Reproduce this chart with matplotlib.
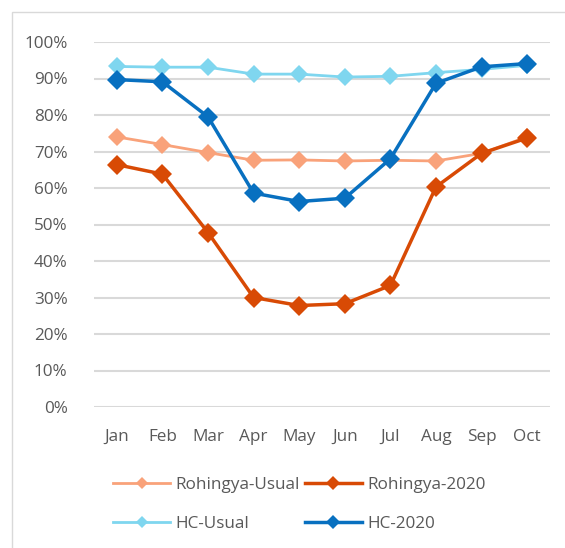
import matplotlib
matplotlib.use("Agg")
import matplotlib.pyplot as plt
from matplotlib.patches import Rectangle
from matplotlib.ticker import PercentFormatter

# values (percent)
months = ["Jan", "Feb", "Mar", "Apr", "May", "Jun", "Jul", "Aug", "Sep", "Oct"]
rohingya_usual = [74.0, 71.9, 69.7, 67.6, 67.7, 67.4, 67.6, 67.4, 69.5, 74.0]
rohingya_2020 = [66.4, 63.8, 47.8, 30.0, 27.8, 28.3, 33.3, 60.3, 69.5, 73.7]
hc_usual = [93.3, 93.1, 93.1, 91.2, 91.2, 90.4, 90.6, 91.6, 92.5, 93.6]
hc_2020 = [89.7, 89.1, 79.5, 58.6, 56.3, 57.2, 68.0, 88.7, 93.2, 94.1]

series = [
    ("Rohingya-Usual", rohingya_usual, "#F9A27A", 2.0, 9.0),
    ("Rohingya-2020", rohingya_2020, "#D84A05", 2.5, 10.0),
    ("HC-Usual", hc_usual, "#7FD6EF", 2.0, 9.0),
    ("HC-2020", hc_2020, "#0870C0", 2.5, 10.0),
]

plt.rcParams["font.family"] = ["Open Sans", "DejaVu Sans"]
text_color = "#595959"
fs = 12.3

W, H = 565, 548
fig = plt.figure(figsize=(W / 100, H / 100), dpi=100)

# chart-area border (only top and left visible in the crop)
fig.patches.append(Rectangle((12 / W, -0.1), 1.2, 1 - 12 / H + 0.1,
                             transform=fig.transFigure, fill=False,
                             edgecolor="#D9D9D9", linewidth=1.0))

ax = fig.add_axes([94 / W, 1 - 407 / H, (550 - 94) / W, (407 - 42) / H])
x = list(range(len(months)))
lines = {}
for label, vals, color, lw, ms in series:
    lines[label], = ax.plot(x, vals, color=color, linewidth=lw, marker="D",
                            markersize=ms, markeredgewidth=0, label=label,
                            solid_joinstyle="round", zorder=3)

ax.set_xlim(-0.5, len(months) - 0.5)
ax.set_ylim(0, 100)
ax.set_yticks(range(0, 101, 10))
ax.yaxis.set_major_formatter(PercentFormatter(decimals=0))
ax.set_xticks(x)
ax.set_xticklabels(months)
ax.tick_params(length=0, labelsize=fs, labelcolor=text_color)
ax.tick_params(axis="y", pad=19)
ax.tick_params(axis="x", pad=16)
ax.grid(axis="y", color="#D9D9D9", linewidth=1.5)
ax.set_axisbelow(True)
for s in ax.spines.values():
    s.set_visible(False)

# legend fills row by row in the reference
order = ["Rohingya-Usual", "HC-Usual", "Rohingya-2020", "HC-2020"]
fig.legend([lines[k] for k in order], order, loc="upper left",
           bbox_to_anchor=(98 / W, 1 - 462 / H),
           ncol=2, frameon=False, fontsize=fs, labelcolor=text_color,
           handlelength=3.3, handletextpad=0.35, columnspacing=0.3,
           labelspacing=1.3, markerscale=0.72)

fig.savefig("out.png", dpi=100)
